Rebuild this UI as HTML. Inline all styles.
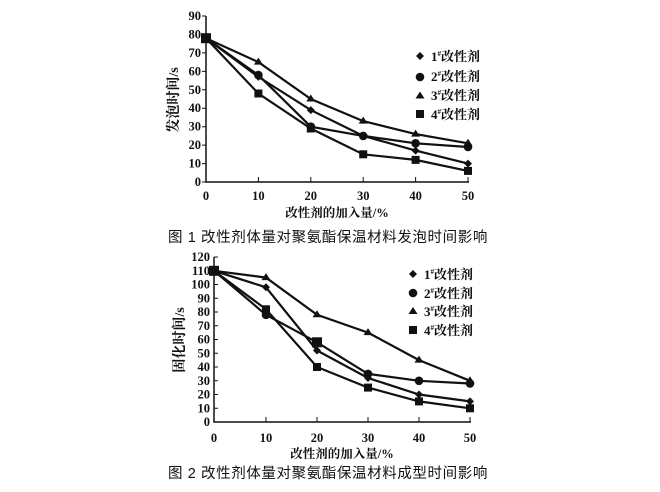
<!DOCTYPE html>
<html><head><meta charset="utf-8"><style>
html,body{margin:0;padding:0;background:#fff;}
svg{display:block;}
.t{font-family:"Liberation Serif","Noto Serif CJK SC",serif;font-weight:bold;font-size:12.5px;fill:#111;}
.c{font-family:"Liberation Sans","Noto Sans CJK SC",sans-serif;font-size:14.5px;letter-spacing:0.6px;fill:#111;}
.l{font-family:"Liberation Serif","Noto Serif CJK SC",serif;font-weight:bold;font-size:13px;fill:#111;}
.y{font-family:"Liberation Serif","Noto Serif CJK SC",serif;font-weight:bold;font-size:14px;fill:#111;}
</style></head><body>
<svg width="660" height="492" viewBox="0 0 660 492" xmlns="http://www.w3.org/2000/svg">
<g stroke="#111" fill="none">
<path d="M206,16 V182 H469" stroke-width="1.5"/>
<g stroke-width="1">
<path d="M202,182H206M202,163.6H206M202,145.1H206M202,126.7H206M202,108.2H206M202,89.8H206M202,71.4H206M202,52.9H206M202,34.5H206M202,16H206"/>
<path d="M258.4,182V177M310.8,182V177M363.2,182V177M415.6,182V177M468,182V177"/>
</g>
<g stroke-width="2.2">
<polyline points="206,38.2 258.4,76.9 310.8,110.1 363.2,135.9 415.6,150.6 468,163.6"/>
<polyline points="206,38.2 258.4,75.1 310.8,126.7 363.2,135.9 415.6,143.3 468,147"/>
<polyline points="206,38.2 258.4,62.1 310.8,99 363.2,121.1 415.6,134.1 468,143.3"/>
<polyline points="206,38.2 258.4,93.5 310.8,128.5 363.2,154.3 415.6,159.9 468,170.9"/>
</g>
</g>
<g fill="#111">
<path d="M258.4,72.9l4,4-4,4-4-4z M310.8,106.1l4,4-4,4-4-4z M363.2,131.9l4,4-4,4-4-4z M415.6,146.6l4,4-4,4-4-4z M468,159.6l4,4-4,4-4-4z"/>
<circle cx="258.4" cy="75.1" r="4.3"/><circle cx="310.8" cy="126.7" r="4.3"/><circle cx="363.2" cy="135.9" r="4.3"/><circle cx="415.6" cy="143.3" r="4.3"/><circle cx="468" cy="147" r="4.3"/>
<path d="M258.4,57.6l4.5,7h-9z M310.8,94.5l4.5,7h-9z M363.2,116.6l4.5,7h-9z M415.6,129.6l4.5,7h-9z M468,138.8l4.5,7h-9z"/>
<rect x="254.4" y="89.5" width="8" height="8"/><rect x="306.8" y="124.5" width="8" height="8"/><rect x="359.2" y="150.3" width="8" height="8"/><rect x="411.6" y="155.9" width="8" height="8"/><rect x="464" y="166.9" width="8" height="8"/>
<rect x="201" y="33.2" width="10" height="10"/>
<path d="M420,52l4,4-4,4-4-4z"/><circle cx="420" cy="77" r="4.3"/><path d="M420,91.5l4.5,7h-9z"/><rect x="416" y="110" width="8" height="8"/>
</g>
<g class="l"><text x="431" y="61">1<tspan font-size="7" dy="-5">#</tspan><tspan dy="5">改性剂</tspan></text>
<text x="431" y="81">2<tspan font-size="7" dy="-5">#</tspan><tspan dy="5">改性剂</tspan></text>
<text x="431" y="100">3<tspan font-size="7" dy="-5">#</tspan><tspan dy="5">改性剂</tspan></text>
<text x="431" y="119">4<tspan font-size="7" dy="-5">#</tspan><tspan dy="5">改性剂</tspan></text></g>
<g class="t" text-anchor="end">
<text x="201" y="186">0</text><text x="201" y="167.6">10</text><text x="201" y="149.1">20</text><text x="201" y="130.7">30</text><text x="201" y="112.2">40</text><text x="201" y="93.8">50</text><text x="201" y="75.4">60</text><text x="201" y="56.9">70</text><text x="201" y="38.5">80</text><text x="201" y="20">90</text>
</g>
<g class="t" text-anchor="middle">
<text x="206" y="200">0</text><text x="258.4" y="200">10</text><text x="310.8" y="200">20</text><text x="363.2" y="200">30</text><text x="415.6" y="200">40</text><text x="468" y="200">50</text>
<text x="337" y="217">改性剂的加入量/%</text>
</g>
<text class="y" text-anchor="middle" transform="translate(178,100) rotate(-90)">发泡时间/s</text>
<text class="c" x="168" y="242">图 1 改性剂体量对聚氨酯保温材料发泡时间影响</text>

<g stroke="#111" fill="none">
<path d="M214,257 V422 H471" stroke-width="1.5"/>
<g stroke-width="1">
<path d="M214,408.3H218M214,394.5H218M214,380.8H218M214,367H218M214,353.3H218M214,339.5H218M214,325.8H218M214,312H218M214,298.3H218M214,284.5H218M214,270.8H218M214,257H218"/>
<path d="M266,422V417M317,422V417M368,422V417M419,422V417M470,422V417"/>
</g>
<g stroke-width="2.2">
<polyline points="214,270.8 266,287.3 317,350.5 368,378 419,394.5 470,401.4"/>
<polyline points="214,270.8 266,314.8 317,342.3 368,373.9 419,380.8 470,383.5"/>
<polyline points="214,270.8 266,277.6 317,314.8 368,332.6 419,360.1 470,380.8"/>
<polyline points="214,270.8 266,309.3 317,367 368,387.6 419,401.4 470,408.3"/>
</g>
</g>
<g fill="#111">
<path d="M266,283.3l4,4-4,4-4-4z M317,346.5l4,4-4,4-4-4z M368,374l4,4-4,4-4-4z M419,390.5l4,4-4,4-4-4z M470,397.4l4,4-4,4-4-4z"/>
<circle cx="266" cy="314.8" r="4.3"/><circle cx="368" cy="373.9" r="4.3"/><circle cx="419" cy="380.8" r="4.3"/><circle cx="470" cy="383.5" r="4.3"/>
<rect x="312" y="337.3" width="10" height="10"/>
<path d="M266,273.1l4.5,7h-9z M317,310.3l4.5,7h-9z M368,328.1l4.5,7h-9z M419,355.6l4.5,7h-9z M470,376.3l4.5,7h-9z"/>
<rect x="262" y="305.3" width="8" height="8"/><rect x="313" y="363" width="8" height="8"/><rect x="364" y="383.6" width="8" height="8"/><rect x="415" y="397.4" width="8" height="8"/><rect x="466" y="404.3" width="8" height="8"/>
<rect x="209" y="265.8" width="10" height="10"/>
<path d="M413,270l4,4-4,4-4-4z"/><circle cx="413" cy="293" r="4.3"/><path d="M413,307l4.5,7h-9z"/><rect x="409" y="326" width="8" height="8"/>
</g>
<g class="l"><text x="424" y="279">1<tspan font-size="7" dy="-5">#</tspan><tspan dy="5">改性剂</tspan></text>
<text x="424" y="298">2<tspan font-size="7" dy="-5">#</tspan><tspan dy="5">改性剂</tspan></text>
<text x="424" y="316">3<tspan font-size="7" dy="-5">#</tspan><tspan dy="5">改性剂</tspan></text>
<text x="424" y="335">4<tspan font-size="7" dy="-5">#</tspan><tspan dy="5">改性剂</tspan></text></g>
<g class="t" text-anchor="end">
<text x="210" y="426">0</text><text x="210" y="412.3">10</text><text x="210" y="398.5">20</text><text x="210" y="384.8">30</text><text x="210" y="371">40</text><text x="210" y="357.3">50</text><text x="210" y="343.5">60</text><text x="210" y="329.8">70</text><text x="210" y="316">80</text><text x="210" y="302.3">90</text><text x="210" y="288.5">100</text><text x="210" y="274.8">110</text><text x="210" y="261">120</text>
</g>
<g class="t" text-anchor="middle">
<text x="214" y="442">0</text><text x="266" y="442">10</text><text x="317" y="442">20</text><text x="368" y="442">30</text><text x="419" y="442">40</text><text x="470" y="442">50</text>
<text x="342" y="458">改性剂的加入量/%</text>
</g>
<text class="y" text-anchor="middle" transform="translate(184,340) rotate(-90)">固化时间/s</text>
<text class="c" x="168" y="478">图 2 改性剂体量对聚氨酯保温材料成型时间影响</text>
</svg>
</body></html>
